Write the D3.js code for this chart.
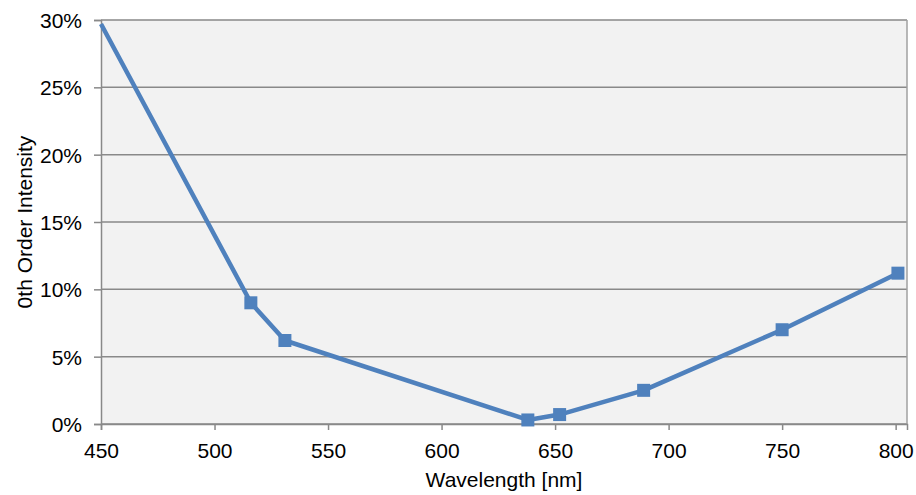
<!DOCTYPE html>
<html>
<head>
<meta charset="utf-8">
<script src="https://cdn.jsdelivr.net/npm/d3@7"></script>
<style>
  body { margin: 0; background: #fff; }
  text { font-family: "Liberation Sans", Arial, sans-serif; fill: #000; }
</style>
</head>
<body>
<svg id="chart" width="916" height="495"></svg>
<script>
// Data
const wavelengths = [450, 516, 531, 638, 652, 689, 750, 801];
const intensity   = [0.297, 0.090, 0.062, 0.003, 0.007, 0.025, 0.070, 0.112];
const showMarker  = [false, true, true, true, true, true, true, true];
const xTicks = [450, 500, 550, 600, 650, 700, 750, 800];
const yTicks = [0, 0.05, 0.10, 0.15, 0.20, 0.25, 0.30];

const W = 916, H = 495;
const m = { top: 20, right: 9, bottom: 71, left: 101 };
const iW = W - m.left - m.right;
const iH = H - m.top - m.bottom;
const FS = 21;

const svg = d3.select('#chart');
const g = svg.append('g').attr('transform', `translate(${m.left},${m.top})`);

const x = d3.scaleLinear().domain([450, 805]).range([0, iW]);
const y = d3.scaleLinear().domain([0, 0.30]).range([iH, 0]);

// Plot background
g.append('rect').attr('width', iW).attr('height', iH).attr('fill', '#f2f2f2');

// Horizontal gridlines
g.selectAll('.grid').data(yTicks).join('line')
  .attr('x1', 0).attr('x2', iW)
  .attr('y1', d => y(d)).attr('y2', d => y(d))
  .attr('stroke', '#898989').attr('stroke-width', 1.5);

// Right border
g.append('line').attr('x1', iW).attr('x2', iW).attr('y1', 0).attr('y2', iH)
  .attr('stroke', '#a0a0a0').attr('stroke-width', 1.5);

// Axes
const xAxis = d3.axisBottom(x).tickValues(xTicks).tickSize(6).tickPadding(13)
  .tickFormat(d3.format('d'));
const gx = g.append('g').attr('transform', `translate(0,${iH})`).call(xAxis);
const yAxis = d3.axisLeft(y).tickValues(yTicks).tickSize(7).tickPadding(12)
  .tickFormat(d3.format('.0%'));
const gy = g.append('g').call(yAxis);

[gx, gy].forEach(a => {
  a.select('.domain').attr('stroke', '#898989').attr('stroke-width', 1.5);
  a.selectAll('.tick line').attr('stroke', '#898989').attr('stroke-width', 1.5);
  a.selectAll('.tick text').attr('font-size', FS)
    .attr('font-family', '"Liberation Sans", Arial, sans-serif').attr('fill', '#000');
});
gy.selectAll('.tick text').attr('dy', '0.35em');

// Series
g.append('clipPath').attr('id', 'clip').append('rect')
  .attr('x', -10).attr('y', 0).attr('width', iW + 20).attr('height', iH);

const pts = wavelengths.map((w, i) => ({ w, v: intensity[i], mk: showMarker[i] }));

const line = d3.line().x(d => x(d.w)).y(d => y(d.v));
g.append('path').datum(pts)
  .attr('clip-path', 'url(#clip)')
  .attr('d', line)
  .attr('fill', 'none').attr('stroke', '#4f81bd')
  .attr('stroke-width', 4.5).attr('stroke-linejoin', 'round');

const ms = 13;
g.selectAll('.mk').data(pts.filter(d => d.mk)).join('rect')
  .attr('x', d => x(d.w) - ms / 2).attr('y', d => y(d.v) - ms / 2)
  .attr('width', ms).attr('height', ms).attr('fill', '#4f81bd');

// Axis titles
svg.append('text')
  .attr('x', m.left + iW / 2).attr('y', 487)
  .attr('text-anchor', 'middle').attr('font-size', FS)
  .text('Wavelength [nm]');

svg.append('text')
  .attr('transform', `translate(25,${m.top + iH / 2}) rotate(-90)`)
  .attr('text-anchor', 'middle').attr('dy', '0.35em').attr('font-size', FS)
  .text('0th Order Intensity');
</script>
</body>
</html>
